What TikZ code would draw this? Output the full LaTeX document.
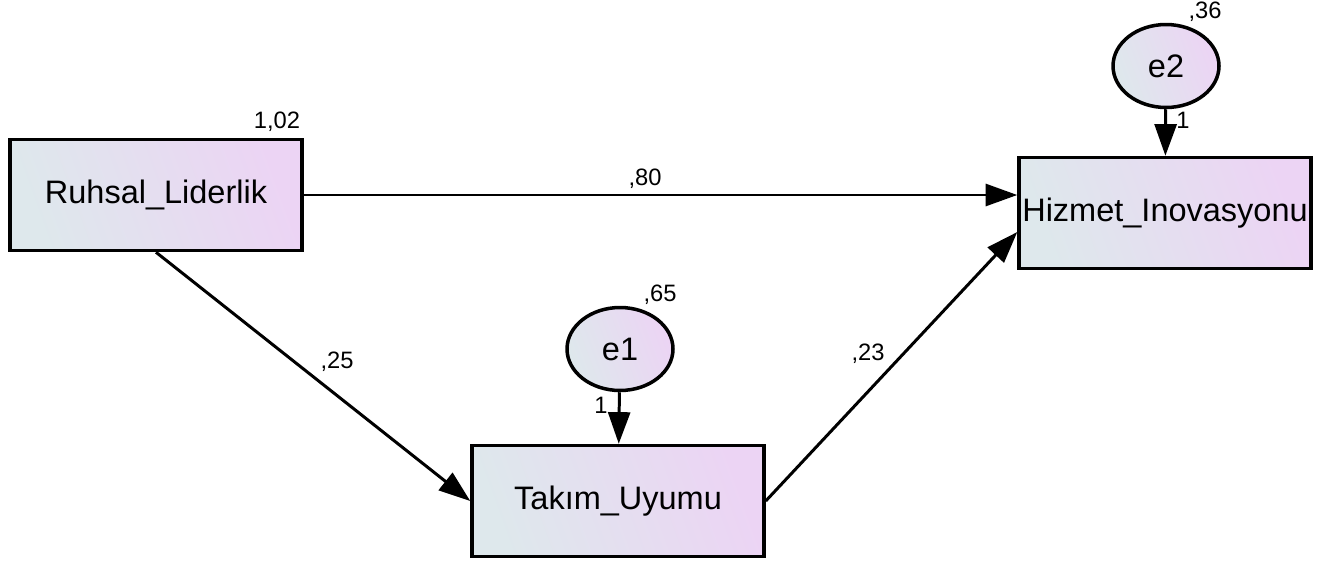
\documentclass[tikz,border=0pt]{standalone}
\usepackage{fontspec}
\setmainfont{Liberation Sans}
\usetikzlibrary{arrows.meta,shapes.geometric}
\definecolor{boxleft}{RGB}{222,232,236}
\definecolor{boxright}{RGB}{236,212,244}

\begin{document}
\begin{tikzpicture}[x=0.02cm,y=-0.02cm,
		obs/.style={draw,line width=2pt,left color=boxleft,right color=boxright,shading angle=110,
			minimum width=5.84cm,minimum height=2.22cm,inner sep=0pt,
			font=\fontsize{18.5}{22}\selectfont},
		err/.style={ellipse,draw,line width=2pt,left color=boxleft,right color=boxright,shading angle=110,
			minimum width=2.12cm,minimum height=1.66cm,inner sep=0pt,
			font=\fontsize{18.5}{22}\selectfont},
		reg/.style={line width=1.7pt,-{Triangle[length=18pt,width=12.5pt]}},
		est/.style={font=\fontsize{13.5}{16}\selectfont}]
		\useasboundingbox (0,0) rectangle (1331,565);
		
		\node[obs] (rl) at (156,195) {Ruhsal\_Liderlik};
		\node[obs] (hi) at (1165,213) {Hizmet\_Inovasyonu};
		\node[obs] (tu) at (618,501) {Takım\_Uyumu};
		
		\node[err] (e1) at (620,349) {e1};
		\node[err] (e2) at (1166,66) {e2};
		
		\draw[reg] (rl.east) -- (rl.east -| hi.west);
		\draw[reg] (rl.south) -- (tu.west);
		\draw[reg] (tu.east) -- ([yshift=-0.38cm]hi.west);
		\draw[reg] (e1) -- (tu);
		\draw[reg] (e2) -- (hi);
		
		\node[est] (v1) at (277,122) {1,02};
		\node[est] (v2) at (1205,12) {,36};
		\node[est] (v3) at (660,295) {,65};
		\node[est] (b1) at (645,179) {,80};
		\node[est] (b2) at (337,362) {,25};
		\node[est] (b3) at (868,354) {,23};
		\node[est] (f1) at (601,405) {1};
		\node[est] (f2) at (1183,120) {1};
	\end{tikzpicture}
\end{document}
